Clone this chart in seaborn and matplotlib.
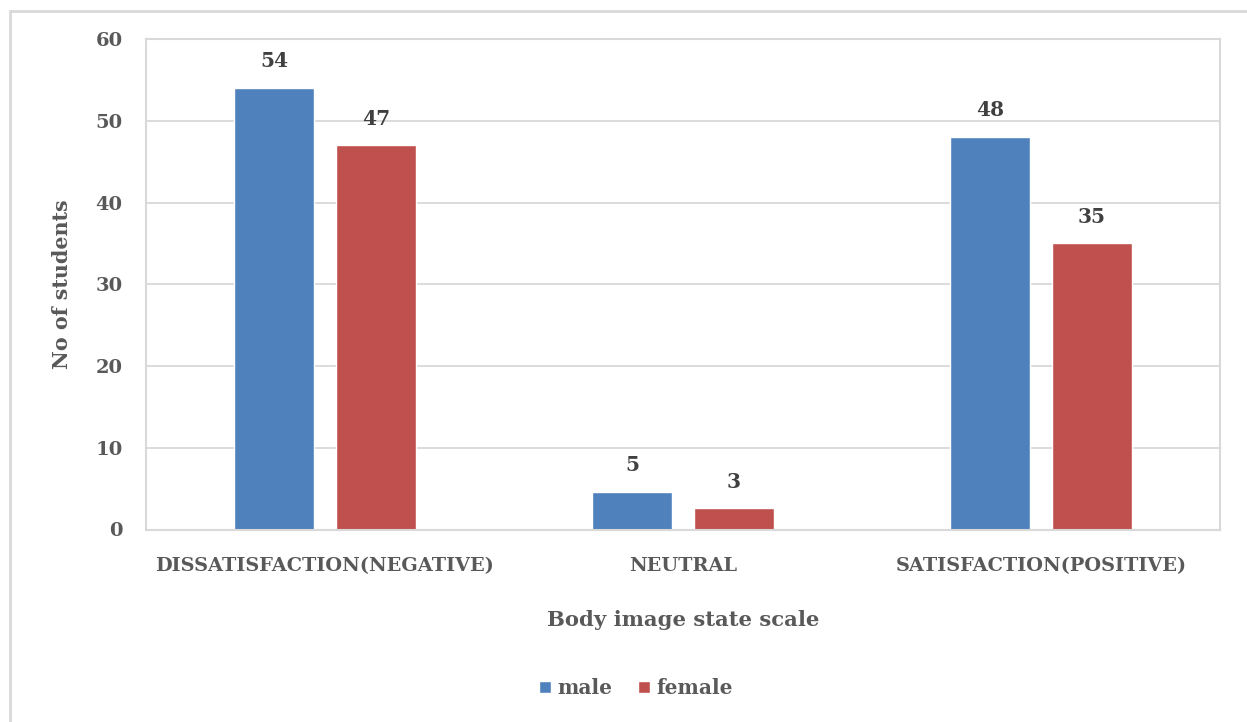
import pandas as pd
import matplotlib
matplotlib.use("Agg")
import matplotlib.pyplot as plt
import seaborn as sns
from matplotlib.patches import Rectangle

categories = ["DISSATISFACTION(NEGATIVE)", "NEUTRAL", "SATISFACTION(POSITIVE)"]
genders = ["male", "female"]
male = [54, 4.6, 48]
female = [47, 2.6, 35]
colors = ["#4F81BD", "#C0504D"]
yticks = [0, 10, 20, 30, 40, 50, 60]

df = pd.DataFrame({
    "scale": categories * 2,
    "gender": [genders[0]] * 3 + [genders[1]] * 3,
    "students": male + female,
})

sns.set_theme(style="white")
plt.rcParams["font.family"] = ["DejaVu Serif"]
plt.rcParams["font.weight"] = "bold"
text_color = "#595959"
grid_color = "#D9D9D9"

W, H = 1247, 722
fig = plt.figure(figsize=(W / 100, H / 100), dpi=100)
ax = fig.add_axes([146 / W, 1 - 529.5 / H, (1220 - 146) / W, (529.5 - 39) / H])

sns.barplot(data=df, x="scale", y="students", hue="gender", palette=colors,
            width=0.57, gap=0.216, saturation=1, ax=ax)

ax.set_ylim(0, 60)
ax.set_yticks(yticks)
ax.grid(axis="y", color=grid_color, lw=1.3)
ax.set_axisbelow(True)
for s in ax.spines.values():
    s.set_color(grid_color)
    s.set_linewidth(1.5)
ax.tick_params(length=0, colors=text_color)
ax.tick_params(axis="x", pad=20, labelsize=13.9)
ax.tick_params(axis="y", pad=17, labelsize=14)
for lab in ax.get_xticklabels() + ax.get_yticklabels():
    lab.set_fontweight("bold")

for c in ax.containers:
    ax.bar_label(c, fmt="%.0f", padding=12, color="#404040",
                 fontsize=14.5, fontweight="bold")

ax.set_xlabel("Body image state scale", fontsize=15.2, fontweight="bold", color=text_color)
ax.set_ylabel("No of students", fontsize=14.9, fontweight="bold", color=text_color)
ax.xaxis.set_label_coords(0.5, (529.5 - 620) / 490.5)
ax.xaxis.label.set_va("center")
ax.yaxis.set_label_coords((62 - 146) / 1074, 0.5)
ax.yaxis.label.set_va("center")

handles, labels = ax.get_legend_handles_labels()
ax.legend(handles, labels, loc="center", bbox_to_anchor=(636 / W, 1 - 688 / H),
          bbox_transform=fig.transFigure, ncol=2, frameon=False,
          handlelength=0.6, handleheight=0.6, handletextpad=0.3,
          columnspacing=1.3, prop={"size": 14.5, "weight": "bold"},
          labelcolor=text_color)

fig.patches.append(Rectangle((10 / W, -0.1), 1.2, (H - 11) / H + 0.1,
                             transform=fig.transFigure, fill=False,
                             edgecolor=grid_color, lw=2))

fig.savefig("out.png", dpi=100)
